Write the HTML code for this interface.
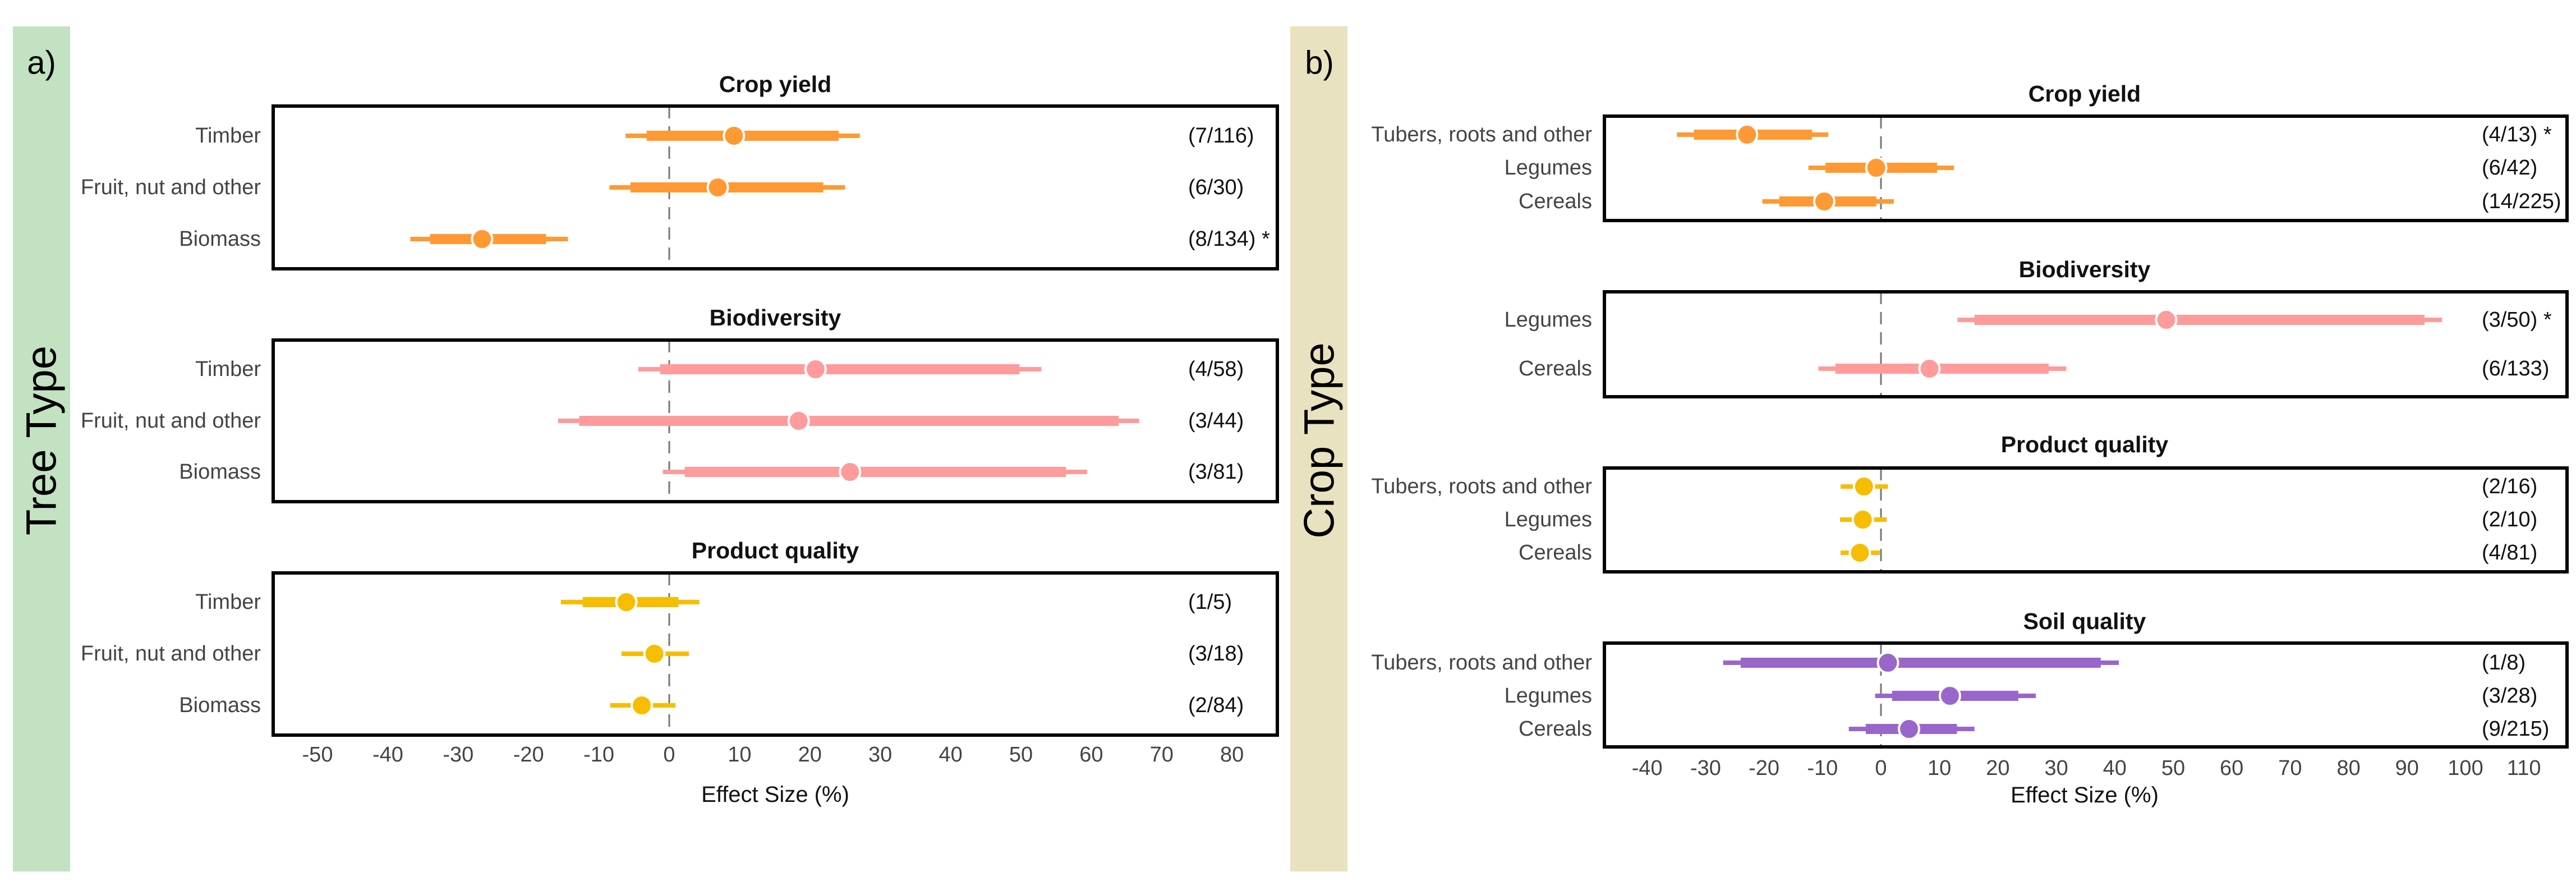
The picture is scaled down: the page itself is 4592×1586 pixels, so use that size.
<!DOCTYPE html>
<html><head><meta charset="utf-8"><style>
html,body{margin:0;padding:0;background:#fff;}
svg{display:block;font-family:"Liberation Sans",sans-serif;}
</style></head><body>
<svg id="fig" width="4592" height="1586" viewBox="0 0 4592 1586" xmlns="http://www.w3.org/2000/svg">
<rect x="23" y="47" width="102" height="1506" fill="#c2e2c2"/>
<rect x="2300" y="47" width="102" height="1506" fill="#e8e2c0"/>
<text x="74" y="112" font-size="58" text-anchor="middle" dominant-baseline="central">a)</text>
<text x="2352" y="112" font-size="58" text-anchor="middle" dominant-baseline="central">b)</text>
<text x="74" y="785" font-size="76" transform="rotate(-90 74 785)" text-anchor="middle" dominant-baseline="central">Tree Type</text>
<text x="2352" y="785" font-size="76" transform="rotate(-90 2352 785)" text-anchor="middle" dominant-baseline="central">Crop Type</text>
</svg>
<script>
const NS="http://www.w3.org/2000/svg";
const svg=document.getElementById('fig');
// ---- Panel A data ----
const aRows=["Timber","Fruit, nut and other","Biomass"];
const aGroups=["Crop yield","Biodiversity","Product quality"];
const aEst=[[9.2,6.9,-26.6],[20.8,18.4,25.7],[-6.1,-2.1,-3.9]];
const aLo95=[[-6.2,-8.5,-36.8],[-4.4,-15.8,-0.9],[-15.4,-6.8,-8.4]];
const aHi95=[[27.1,25.0,-14.4],[52.9,66.8,59.4],[4.3,2.8,0.9]];
const aLo90=[[-3.2,-5.5,-34.0],[-1.3,-12.8,2.2],[-12.3,-2.1,-3.9]];
const aHi90=[[24.1,21.9,-17.5],[49.8,63.9,56.4],[1.3,-2.1,-3.9]];
const aCounts=[["(7/116)","(6/30)","(8/134) *"],["(4/58)","(3/44)","(3/81)"],["(1/5)","(3/18)","(2/84)"]];
const aTicks=[-50,-40,-30,-20,-10,0,10,20,30,40,50,60,70,80];
// ---- Panel B data ----
const bRows=[["Tubers, roots and other","Legumes","Cereals"],["Legumes","Cereals"],["Tubers, roots and other","Legumes","Cereals"],["Tubers, roots and other","Legumes","Cereals"]];
const bGroups=["Crop yield","Biodiversity","Product quality","Soil quality"];
const bEst=[[-22.9,-0.8,-9.7],[48.8,8.3],[-2.9,-3.1,-3.6],[1.2,11.8,4.8]];
const bLo95=[[-34.9,-12.4,-20.3],[13.1,-10.7],[-6.9,-7.0,-6.9],[-27.0,-1.0,-5.5]];
const bHi95=[[-9.0,12.5,2.2],[96.0,31.7],[1.2,1.0,-0.2],[40.7,26.5,16.0]];
const bLo90=[[-32.0,-9.5,-17.4],[16.0,-7.8],[-2.9,-3.1,-3.6],[-24.0,1.9,-2.6]];
const bHi90=[[-11.8,9.6,-0.8],[93.0,28.7],[-2.9,-3.1,-3.6],[37.6,23.5,13.0]];
const bCounts=[["(4/13) *","(6/42)","(14/225)"],["(3/50) *","(6/133)"],["(2/16)","(2/10)","(4/81)"],["(1/8)","(3/28)","(9/215)"]];
const bTicks=[-40,-30,-20,-10,0,10,20,30,40,50,60,70,80,90,100,110];
const colors=["#ff9933","#ff9b9b","#f7bd00","#9966cc"];

function mk(tag,attrs,parent){const e=document.createElementNS(NS,tag);for(const k in attrs)e.setAttribute(k,attrs[k]);(parent||svg).appendChild(e);return e;}

function panel(cfg){
  const sx=v=>cfg.x0+v*cfg.k;
  cfg.groups.forEach((g,gi)=>{
    const b=cfg.boxes[gi];
    const t=mk('text',{x:cfg.titleX,y:b.title,'font-size':41,'font-weight':'bold','text-anchor':'middle','dominant-baseline':'central',fill:'#111'});
    
    
    t.textContent=g;
    const dl=mk('line',{x1:sx(0),x2:sx(0),y1:b.top,y2:b.bot,stroke:'#777','stroke-width':3,'stroke-dasharray':'22 14'});
    
    
    const rows=cfg.rows[gi];
    rows.forEach((r,ri)=>{
      const y=b.rows[ri];const c=colors[gi];
      const lab=mk('text',{x:cfg.labelX,y:y,'font-size':38,'text-anchor':'end','dominant-baseline':'central',fill:'#444'});
      
      
      lab.textContent=r;
      const w=mk('rect',{x:sx(cfg.lo95[gi][ri]),y:y-4,width:(cfg.hi95[gi][ri]-cfg.lo95[gi][ri])*cfg.k,height:8,fill:c});
      
      
      const th=mk('rect',{x:sx(cfg.lo90[gi][ri]),y:y-9,width:(cfg.hi90[gi][ri]-cfg.lo90[gi][ri])*cfg.k,height:18,fill:c});
      
      
      const p=mk('circle',{cx:sx(cfg.est[gi][ri]),cy:y,r:18,fill:c,stroke:'#fff','stroke-width':4});
      
      
      const ct=mk('text',{x:cfg.countX,y:y,'font-size':38,'dominant-baseline':'central',fill:'#111'});
      
      
      ct.textContent=cfg.counts[gi][ri];
    });
    const bx=mk('rect',{x:cfg.left,y:b.top,width:cfg.right-cfg.left,height:b.bot-b.top,fill:'none',stroke:'#000','stroke-width':6});
    
    
  });
  cfg.ticks.forEach(v=>{
    const t=mk('text',{x:sx(v),y:cfg.tickY,'font-size':38,'text-anchor':'middle','dominant-baseline':'central',fill:'#444'});
    
    
    t.textContent=v;
  });
  const at=mk('text',{x:cfg.titleX,y:cfg.axisY,'font-size':40,'text-anchor':'middle','dominant-baseline':'central',fill:'#111'});
  
  
  at.textContent='Effect Size (%)';
}
panel({x0:1193,k:12.54,left:487,right:2277,titleX:1382,labelX:465,countX:2118,tickY:1345,axisY:1416,
  groups:aGroups,rows:[aRows,aRows,aRows],est:aEst,lo95:aLo95,hi95:aHi95,lo90:aLo90,hi90:aHi90,counts:aCounts,ticks:aTicks,
  boxes:[{title:150,top:189,bot:479,rows:[242,334,426]},{title:566,top:606,bot:894,rows:[658,750,841]},{title:981,top:1021,bot:1310,rows:[1073,1165,1257]}]});
panel({x0:3353,k:10.42,left:2860,right:4576,titleX:3716,labelX:2838,countX:4424,tickY:1369,axisY:1417,
  groups:bGroups,rows:bRows,est:bEst,lo95:bLo95,hi95:bHi95,lo90:bLo90,hi90:bHi90,counts:bCounts,ticks:bTicks,
  boxes:[{title:167,top:207,bot:393,rows:[240,299,359]},{title:480,top:520,bot:707,rows:[570,657]},{title:792,top:834,bot:1019,rows:[867,926,985]},{title:1107,top:1146,bot:1331,rows:[1181,1240,1299]}]});
</script>
</body></html>
